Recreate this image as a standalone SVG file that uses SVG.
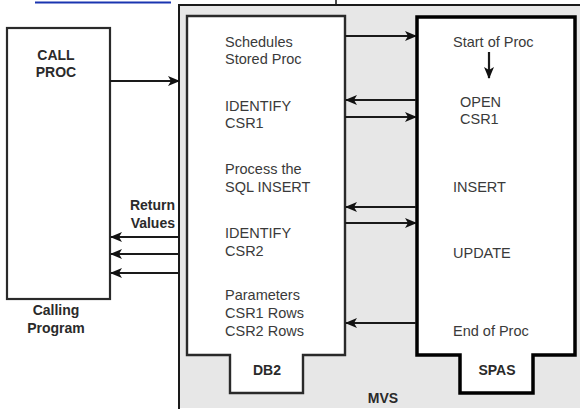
<svg xmlns="http://www.w3.org/2000/svg" width="580" height="410" viewBox="0 0 580 410">
<defs>
<style>
.t{font-family:"Liberation Sans",Arial,sans-serif;font-size:14.5px;fill:#3a3a3a}
.b{font-family:"Liberation Sans",Arial,sans-serif;font-size:14px;font-weight:bold;fill:#2a2a2a}
.c{stroke:#1a1a1a;stroke-width:2.2;fill:none}
</style>
<marker id="ah" markerWidth="12" markerHeight="10" refX="11" refY="5" orient="auto" markerUnits="userSpaceOnUse">
<path d="M0,0 L12,5 L0,10 L3,5 Z" fill="#111"/>
</marker>
</defs>
<rect width="580" height="410" fill="#fff"/>
<line x1="35" y1="2.5" x2="171" y2="2.5" stroke="#1a35b0" stroke-width="2"/>
<line x1="336" y1="0" x2="336" y2="4" stroke="#111" stroke-width="1.5"/>
<g id="mvs">
<path d="M179,409 V5 H582" fill="#e7e7e7" stroke="#1a1a1a" stroke-width="2"/>
<rect x="180" y="6" width="402" height="402" fill="#e7e7e7"/>
<text class="b" x="383" y="403" text-anchor="middle">MVS</text>
</g>
<g id="calling">
<rect x="7" y="28" width="103" height="271" fill="#fff" stroke="#2a2a2a" stroke-width="2.2"/>
<text class="b" x="56" y="60" text-anchor="middle">CALL</text>
<text class="b" x="56" y="77" text-anchor="middle">PROC</text>
<text class="b" x="56" y="315" text-anchor="middle">Calling</text>
<text class="b" x="56" y="333" text-anchor="middle">Program</text>
</g>
<g id="db2">
<path d="M187,16 H345 V355 H303 V393 H230 V355 H187 Z" fill="#fff" stroke="#2a2a2a" stroke-width="2.4"/>
<text class="t" x="225" y="47">Schedules</text>
<text class="t" x="225" y="64">Stored Proc</text>
<text class="t" x="225" y="111">IDENTIFY</text>
<text class="t" x="225" y="128">CSR1</text>
<text class="t" x="225" y="174">Process the</text>
<text class="t" x="225" y="192">SQL INSERT</text>
<text class="t" x="225" y="238">IDENTIFY</text>
<text class="t" x="225" y="256">CSR2</text>
<text class="t" x="225" y="300">Parameters</text>
<text class="t" x="225" y="318">CSR1 Rows</text>
<text class="t" x="225" y="336">CSR2 Rows</text>
<text class="b" x="267" y="375" text-anchor="middle">DB2</text>
</g>
<g id="spas">
<path d="M417,17 H575 V355 H533 V393 H460 V355 H417 Z" fill="#fff" stroke="#000" stroke-width="3.5"/>
<text class="t" x="453" y="47">Start of Proc</text>
<text class="t" x="460" y="107">OPEN</text>
<text class="t" x="460" y="124">CSR1</text>
<text class="t" x="453" y="192">INSERT</text>
<text class="t" x="453" y="258">UPDATE</text>
<text class="t" x="453" y="336">End of Proc</text>
<text class="b" x="497" y="375" text-anchor="middle">SPAS</text>
</g>
<g id="return-label">
<text class="b" x="175" y="210" text-anchor="end">Return</text>
<text class="b" x="175" y="228" text-anchor="end">Values</text>
</g>
<g id="connectors">
<line class="c" x1="110" y1="81" x2="179" y2="81" marker-end="url(#ah)"/>
<line class="c" x1="345" y1="36" x2="416" y2="36" marker-end="url(#ah)"/>
<line class="c" x1="416" y1="100" x2="346" y2="100" marker-end="url(#ah)"/>
<line class="c" x1="345" y1="117" x2="416" y2="117" marker-end="url(#ah)"/>
<line class="c" x1="416" y1="207" x2="346" y2="207" marker-end="url(#ah)"/>
<line class="c" x1="345" y1="223" x2="416" y2="223" marker-end="url(#ah)"/>
<line class="c" x1="416" y1="323" x2="346" y2="323" marker-end="url(#ah)"/>
<line class="c" x1="179" y1="237" x2="111" y2="237" marker-end="url(#ah)"/>
<line class="c" x1="179" y1="254" x2="111" y2="254" marker-end="url(#ah)"/>
<line class="c" x1="179" y1="273" x2="111" y2="273" marker-end="url(#ah)"/>
<line class="c" x1="489" y1="52" x2="489" y2="78" marker-end="url(#ah)"/>
</g>
</svg>
